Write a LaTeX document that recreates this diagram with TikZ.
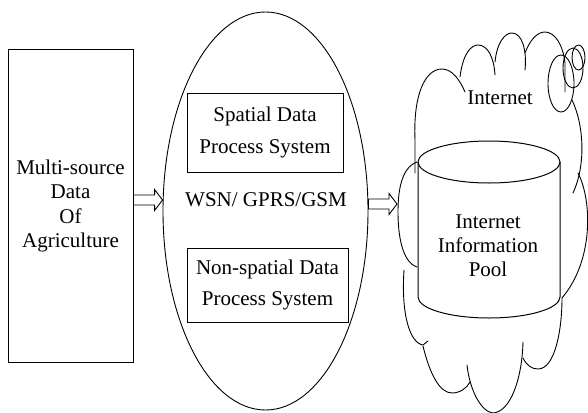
\documentclass[tikz,border=0pt]{standalone}
\usepackage{fontspec}
\setmainfont{Liberation Serif}
\usetikzlibrary{shapes.geometric,calc}
\tikzset{my block/.style={draw, line width=1pt, align=center, inner sep=0pt, font=\fontsize{21}{24.5}\selectfont},}
\tikzset{my process/.style={draw, line width=1pt, align=center, inner sep=0pt, font=\fontsize{21}{31.5}\selectfont},}
\tikzset{my oval/.style={draw, ellipse, line width=0.9pt, minimum width=205pt, minimum height=398pt, inner sep=0pt},}
\tikzset{my drum/.style={line width=1pt},}
\tikzset{my label/.style={inner sep=0pt, align=center, font=\fontsize{21}{24}\selectfont},}
\tikzset{my arrow/.style={draw, line width=0.9pt, line join=miter, to path={let \p1=(\tikztostart), \p2=(\tikztotarget) in
  (\x1,\y1+5pt) -- (\x2-8pt,\y1+5pt) -- (\x2-8pt,\y1+10.5pt) -- (\x2,\y1) -- (\x2-8pt,\y1-10.5pt) -- (\x2-8pt,\y1-5pt) -- (\x1,\y1-5pt) -- (\x1,\y1+5pt)}},}
\tikzset{my cloud/.style={line width=0.9pt, line cap=round},}

\begin{document}
\begin{tikzpicture}[x=1pt,y=1pt]
\useasboundingbox (0,0) rectangle (588,-412);
\node [my block,minimum width=125pt,minimum height=312pt] (source) at ( 70.500000,-206.000000) {Multi-source\\Data\\Of\\Agriculture};
\node [my oval] (hub) at (265.500000,-211.000000) {};
\node [my process,minimum width=156pt,minimum height=79pt] (spatial) at (265.000000,-132.500000) {Spatial Data\\Process System};
\node [my process,minimum width=161pt,minimum height=74pt] (nonspatial) at (267.500000,-285.000000) {Non-spatial Data\\Process System};
\node [my label] (wsn) at (266.000000,-200.000000) {WSN/ GPRS/GSM};
\node [my label] (pool) at (488.000000,-246.000000) {Internet\\Information\\Pool};
\node [my label] (inet) at (500.000000,-98.000000) {Internet};
\coordinate (cloudin) at (397.000000,-204.000000);

% information pool drum
\draw [my drum] (489,-162) ellipse [x radius=71, y radius=21];
\draw [my drum] (418,-162) -- (418,-297) arc [start angle=180, end angle=360, x radius=71, y radius=21] -- (560,-162);

% cloud round the pool
\draw [my cloud] (415,-173) -- (415,-140) .. controls (413,-95) and (425,-69) .. (442,-69) .. controls (452,-69) and (460,-80) .. (465,-92);
\draw [my cloud] (460,-77) .. controls (463,-52) and (472,-45) .. (478,-45) .. controls (488,-45) and (494,-58) .. (495,-75);
\draw [my cloud] (495,-62) .. controls (497,-42) and (505,-33) .. (512,-33) .. controls (522,-33) and (527,-50) .. (525,-70);
\draw [my cloud] (525,-53) .. controls (530,-40) and (537,-32) .. (545,-32) .. controls (555,-32) and (563,-45) .. (565,-63) -- (565,-92);
\draw [my cloud] (561,-83.5) ellipse [x radius=13, y radius=28.5];
\draw [my cloud] (573,-68) ellipse [x radius=10, y radius=20];
\draw [my cloud] (578.5,-57.5) ellipse [x radius=6.5, y radius=12.5];
\draw [my cloud] (572,-100) .. controls (584,-125) and (586,-165) .. (573,-193);
\draw [my cloud] (578,-173) .. controls (592,-200) and (594,-260) .. (562,-298);
\draw [my cloud] (417,-162) .. controls (400,-168) and (398,-195) .. (398,-212) .. controls (398,-235) and (402,-262) .. (417,-267);
\draw [my cloud] (404,-270) .. controls (401,-315) and (410,-343) .. (423,-345) -- (428,-341);
\draw [my cloud] (423,-346) .. controls (430,-375) and (440,-393) .. (452,-393) .. controls (460,-393) and (467,-388) .. (470,-382);
\draw [my cloud] (467,-365) .. controls (470,-392) and (482,-412) .. (493,-413) .. controls (510,-412) and (522,-380) .. (523,-342);
\draw [my cloud] (523,-358) .. controls (527,-366) and (532,-369) .. (538,-369) .. controls (555,-369) and (562,-330) .. (562,-298);

\draw [my arrow] (source.east |- wsn) to (hub.west |- wsn);
\draw [my arrow] (hub.east |- cloudin) to (cloudin);
\end{tikzpicture}
\end{document}
